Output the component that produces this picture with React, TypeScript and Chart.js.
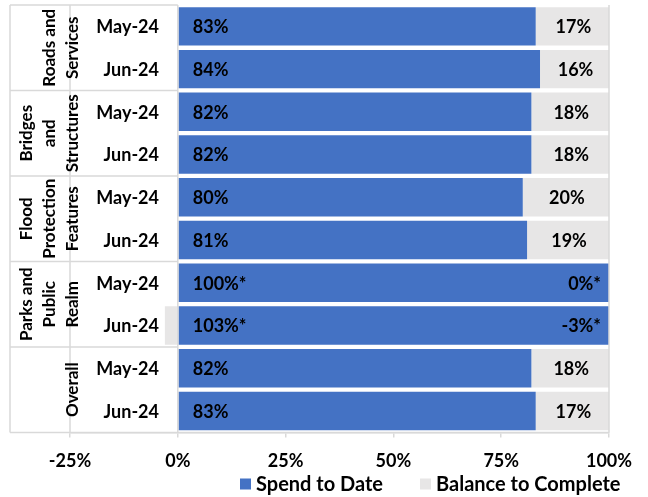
import React, { useEffect, useRef } from 'react';
import { Chart, registerables } from 'chart.js';

Chart.register(...registerables);

// ---------- data ----------
const groupNames: string[][] = [
  ['Roads and', 'Services'],
  ['Bridges', 'and', 'Structures'],
  ['Flood', 'Protection', 'Features'],
  ['Parks and', 'Public', 'Realm'],
  ['Overall'],
];
const periods = ['May-24', 'Jun-24'];
const categories = [
  'May-24', 'Jun-24',
  'May-24', 'Jun-24',
  'May-24', 'Jun-24',
  'May-24', 'Jun-24',
  'May-24', 'Jun-24',
];
const spendToDate = [83, 84, 82, 82, 80, 81, 100, 103, 82, 83];
const balanceToComplete = [17, 16, 18, 18, 20, 19, 0, -3, 18, 17];
const spendLabels = ['83%', '84%', '82%', '82%', '80%', '81%', '100%*', '103%*', '82%', '83%'];
const balanceLabels = ['17%', '16%', '18%', '18%', '20%', '19%', '0%*', '-3%*', '18%', '17%'];
const seriesNames = ['Spend to Date', 'Balance to Complete'];
const xMin = -25;
const xMax = 100;
const xStep = 25;

const BLUE = '#4472C4';
const GREY = '#E7E6E6';
const LINE = '#D9D9D9';
const FONT = 'Lato, "Open Sans", sans-serif';

const overlayPlugin = {
  id: 'overlay',
  afterDraw(chart: any) {
    const ctx = chart.ctx as CanvasRenderingContext2D;
    const xs = chart.scales.x;
    const ys = chart.scales.y;
    const area = chart.chartArea;
    const n = categories.length;
    const band = (area.bottom - area.top) / n;
    const labelLeft = 10;
    const x0 = xs.getPixelForValue(0);
    const xLeft = xs.getPixelForValue(xMin);
    const xRight = xs.getPixelForValue(xMax);

    ctx.save();
    // grid lines of the label table
    ctx.strokeStyle = LINE;
    ctx.lineWidth = 1.5;
    ctx.beginPath();
    const groupsCount = groupNames.length;
    for (let g = 0; g <= groupsCount; g++) {
      const y = area.top + g * band * periods.length;
      ctx.moveTo(labelLeft, y);
      ctx.lineTo(g === groupsCount ? xRight : x0, y);
    }
    [labelLeft, xLeft, x0, xRight].forEach((x) => {
      ctx.moveTo(x, area.top);
      ctx.lineTo(x, area.bottom);
    });
    ctx.stroke();

    // category labels
    ctx.fillStyle = '#000';
    ctx.font = `bold 18px ${FONT}`;
    ctx.textBaseline = 'middle';
    ctx.textAlign = 'right';
    for (let i = 0; i < n; i++) {
      ctx.fillText(categories[i], 159, ys.getPixelForValue(i) + 1);
    }

    // group labels (rotated)
    ctx.font = `bold 17px ${FONT}`;
    ctx.textAlign = 'center';
    const lineGap = 23;
    groupNames.forEach((lines, g) => {
      const yc = area.top + (g + 0.5) * band * periods.length;
      const last = lines.length - 1;
      lines.forEach((t, k) => {
        const x = 72 - (last - k) * lineGap;
        ctx.save();
        ctx.translate(x, yc);
        ctx.rotate(-Math.PI / 2);
        ctx.fillText(t, 0, 1);
        ctx.restore();
      });
    });

    // data labels
    ctx.font = `bold 18px ${FONT}`;
    for (let i = 0; i < n; i++) {
      const y = ys.getPixelForValue(i) + 1;
      ctx.textAlign = 'left';
      ctx.fillText(spendLabels[i], x0 + 15, y);
      const b = balanceToComplete[i];
      if (b > 0) {
        const s = Math.min(spendToDate[i], xMax);
        const xc = (xs.getPixelForValue(s) + xRight) / 2 + 1;
        ctx.textAlign = 'center';
        ctx.fillText(balanceLabels[i], xc, y);
      } else {
        ctx.textAlign = 'right';
        ctx.fillText(balanceLabels[i], xRight - 8, y);
      }
    }

    // legend
    ctx.textAlign = 'left';
    ctx.font = `bold 20px ${FONT}`;
    const ly = 484;
    let lx = 240;
    const colors = [BLUE, GREY];
    seriesNames.forEach((name, k) => {
      ctx.fillStyle = colors[k];
      ctx.fillRect(lx, ly - 5.5, 11, 11);
      ctx.fillStyle = '#000';
      ctx.fillText(name, lx + 16, ly + 1);
      lx += 16 + ctx.measureText(name).width + 37;
    });
    ctx.restore();
  },
};

export default function App() {
  const ref = useRef<HTMLCanvasElement | null>(null);
  useEffect(() => {
    document.body.style.margin = '0';
    const canvas = ref.current;
    if (!canvas) return;
    const chart = new Chart(canvas, {
      type: 'bar',
      data: {
        labels: categories,
        datasets: [
          {
            label: seriesNames[0],
            data: spendToDate,
            backgroundColor: BLUE,
            borderWidth: 0,
            barPercentage: 0.9,
            categoryPercentage: 1,
          },
          {
            label: seriesNames[1],
            data: balanceToComplete,
            backgroundColor: GREY,
            borderWidth: 0,
            barPercentage: 0.9,
            categoryPercentage: 1,
          },
        ],
      },
      options: {
        indexAxis: 'y',
        responsive: false,
        animation: false,
        layout: { padding: { left: 70, right: 39, top: 5, bottom: 12 } },
        plugins: { legend: { display: false }, tooltip: { enabled: false } },
        scales: {
          x: {
            stacked: true,
            min: xMin,
            max: xMax,
            grid: { display: true, drawOnChartArea: false, drawTicks: true, tickLength: 5, color: LINE, lineWidth: 1.5 },
            border: { display: true, color: LINE, width: 1.5 },
            ticks: {
              stepSize: xStep,
              padding: 13,
              color: '#000',
              font: { family: FONT, size: 18, weight: 'bold' },
              callback: (v: any) => `${v}%`,
            },
          },
          y: {
            stacked: true,
            display: false,
          },
        },
      },
      plugins: [overlayPlugin],
    });
    return () => chart.destroy();
  }, []);
  return <canvas ref={ref} width={648} height={497} style={{ display: 'block' }} />;
}
